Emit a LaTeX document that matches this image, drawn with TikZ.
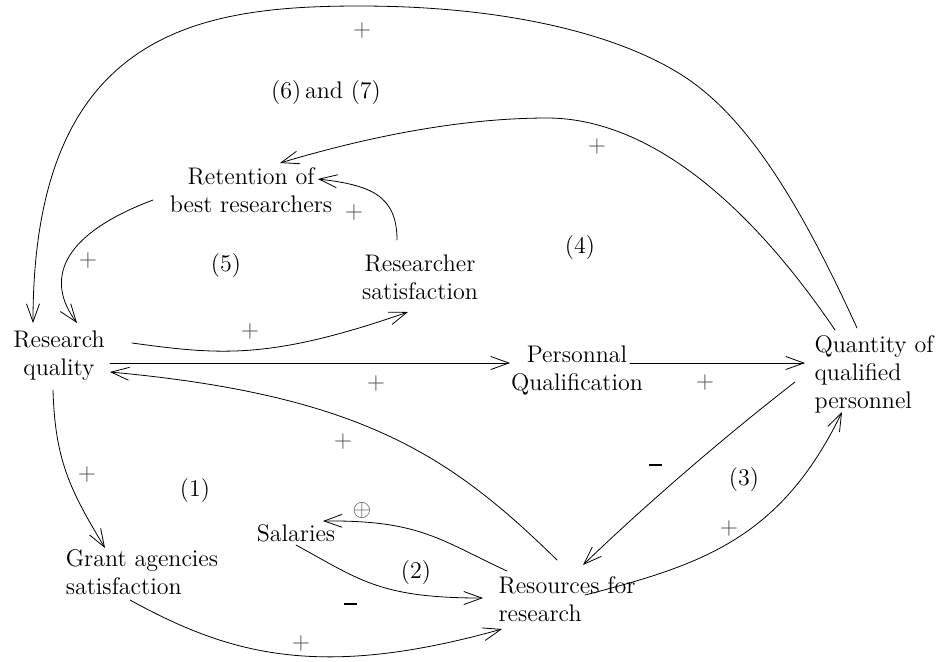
\documentclass[tikz,border=0pt]{standalone}
\usepackage{amsmath}
\usepackage{amssymb}
\usepackage{tikz}
\usetikzlibrary{arrows.meta, calc}

\begin{document}
\begin{tikzpicture}[x=0.5pt, y=-0.5pt, line cap=round, line join=round,
	>={Straight Barb[length=9pt,width=6.5pt]},
	factor/.style={font=\large, align=center, inner sep=1pt},
	sign/.style={font=\large, text=black!70},
	loopno/.style={font=\large}]
	\useasboundingbox (0,0) rectangle (941,661);

	% variables of the loops
	\node[factor] (ret) at (251,190) {Retention of\\best researchers};
	\node[factor] (rs) at (420,277) {Researcher\\satisfaction};
	\node[factor] (rq) at (59,356) {Research\\quality};
	\node[factor] (pq) at (577,370) {Personnal\\Qualification};
	\node[factor, align=left] (qp) at (874,374) {Quantity of\\qualified\\personnel};
	\node[factor] (sal) at (296,533) {Salaries};
	\node[factor, align=left] (gas) at (142,572) {Grant agencies\\satisfaction};
	\node[factor, align=left] (rfr) at (567,599) {Resources for\\research};

	% loop numbers
	\node[loopno] (l67) at (326,92) {(6)\,and (7)};
	\node[loopno] (l4) at (580,247) {(4)};
	\node[loopno] (l5) at (226,265) {(5)};
	\node[loopno] (l1) at (195,490) {(1)};
	\node[loopno] (l3) at (744,479) {(3)};
	\node[loopno] (l2) at (416,572) {(2)};

	% signs of the links
	\node[sign] (s1) at (362,30) {$+$};
	\node[sign] (s2) at (597,146) {$+$};
	\node[sign] (s3) at (354,212) {$+$};
	\node[sign] (s4) at (88,260) {$+$};
	\node[sign] (s5) at (250,331) {$+$};
	\node[sign] (s6) at (376,383) {$+$};
	\node[sign] (s7) at (705,382) {$+$};
	\node[sign] (s8) at (343,441) {$+$};
	\node[sign] (s9) at (87,474) {$+$};
	\node[sign] (s10) at (729,528) {$+$};
	\node[sign] (s11) at (301,643) {$+$};
	\node[sign] (s12) at (362,510) {$\oplus$};
	\node (m1) at (655,465) {\rule{6.5pt}{1.4pt}};
	\node (m2) at (350,604) {\rule{6.5pt}{1.4pt}};

	% links
	\draw[->] ([shift={(-17,-46)}]qp.center) .. controls (810,225) and (760,135) .. (700,88)
		.. controls (640,40) and (520,6) .. (360,6)
		.. controls (200,6) and (33,30) .. ([shift={(-26,-33)}]rq.center);
	\draw[->] ([shift={(-39,-44)}]qp.center) .. controls (740,190) and (640,118) .. (547,118)
		.. controls (450,118) and (350,142) .. ([shift={(29,-27)}]ret.center);
	\draw[->] ([shift={(-98,10)}]ret.center) .. controls (60,235) and (45,280) .. ([shift={(18,-33)}]rq.center);
	\draw[->] ([shift={(-23,-37)}]rs.center) .. controls (397,195) and (370,185) .. ([shift={(67,-11)}]ret.center);
	\draw[->] ([shift={(73,-13)}]rq.center) .. controls (220,355) and (270,360) .. ([shift={(-12,35)}]rs.center);
	\draw[->] ([shift={(51,7)}]rq.center) -- ([shift={(-67,-7)}]pq.center);
	\draw[->] ([shift={(53,-7)}]pq.center) -- ([shift={(-69,-11)}]qp.center);
	\draw[->] ([shift={(-10,-39)}]rfr.center) .. controls (450,455) and (360,395) .. ([shift={(51,16)}]rq.center);
	\draw[->] ([shift={(-79,8)}]qp.center) .. controls (720,440) and (640,510) .. ([shift={(16,-34)}]rfr.center);
	\draw[->] ([shift={(18,-4)}]rfr.center) .. controls (700,565) and (780,540) .. ([shift={(-32,38)}]qp.center);
	\draw[->] ([shift={(-6,34)}]rq.center) .. controls (55,460) and (70,490) .. ([shift={(-37,-24)}]gas.center);
	\draw[->] ([shift={(-12,28)}]gas.center) .. controls (230,655) and (320,680) .. ([shift={(-65,30)}]rfr.center);
	\draw[->] ([shift={(0,12)}]sal.center) .. controls (360,580) and (380,598) .. ([shift={(-84,-1)}]rfr.center);
	\draw[->] ([shift={(-60,-28)}]rfr.center) .. controls (440,540) and (420,520) .. ([shift={(27,-12)}]sal.center);

\end{tikzpicture}
\end{document}
